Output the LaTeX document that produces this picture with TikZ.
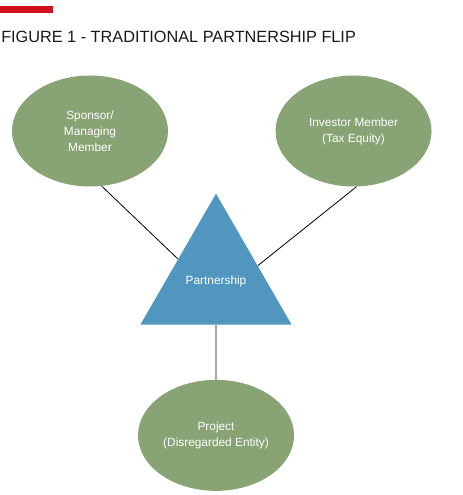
\documentclass[tikz,border=0pt]{standalone}
\usepackage{fontspec}
\setmainfont{Liberation Sans}
\usetikzlibrary{shapes.geometric,positioning,calc}
\definecolor{flipgreen}{RGB}{136,163,116}
\definecolor{flipblue}{RGB}{80,150,190}
\definecolor{flipred}{RGB}{208,16,26}

\begin{document}
\begin{tikzpicture}[x=0.75pt, y=-0.75pt, node distance=80.25pt,
  member/.style={ellipse, fill=flipgreen, text=white, inner sep=0pt,
    minimum width=117pt, minimum height=83.25pt, align=center,
    font=\fontsize{8.9}{12}\selectfont},
  entity/.style={regular polygon, regular polygon sides=3, fill=flipblue,
    text=white, inner sep=0pt, minimum size=130.95pt,
    font=\fontsize{8.9}{12}\selectfont}]
  \useasboundingbox (0,0) rectangle (462,495);
  \fill[flipred] (0,6) rectangle (53,13);
  \node[anchor=base west, inner sep=0pt, font=\fontsize{12.2}{14}\selectfont,
    text=black!90] (title) at (1,42.5) {FIGURE 1 - TRADITIONAL PARTNERSHIP FLIP};
  \node[member] (sponsor) at (90,131) {Sponsor/\\Managing\\Member};
  \node[member] (investor) [right=of sponsor] {Investor Member\\(Tax Equity)};
  \node[entity] (partner) at (216,281) {Partnership};
  \node[member] (project) [below=41pt of partner] {Project\\(Disregarded Entity)};
  \path[draw, line width=0.6pt]
    (sponsor.-78) edge (partner.side 1)
    (investor.-87) edge ($(partner.corner 1)!0.55!(partner.corner 3)$)
    (partner.side 2) edge (project);
\end{tikzpicture}
\end{document}
